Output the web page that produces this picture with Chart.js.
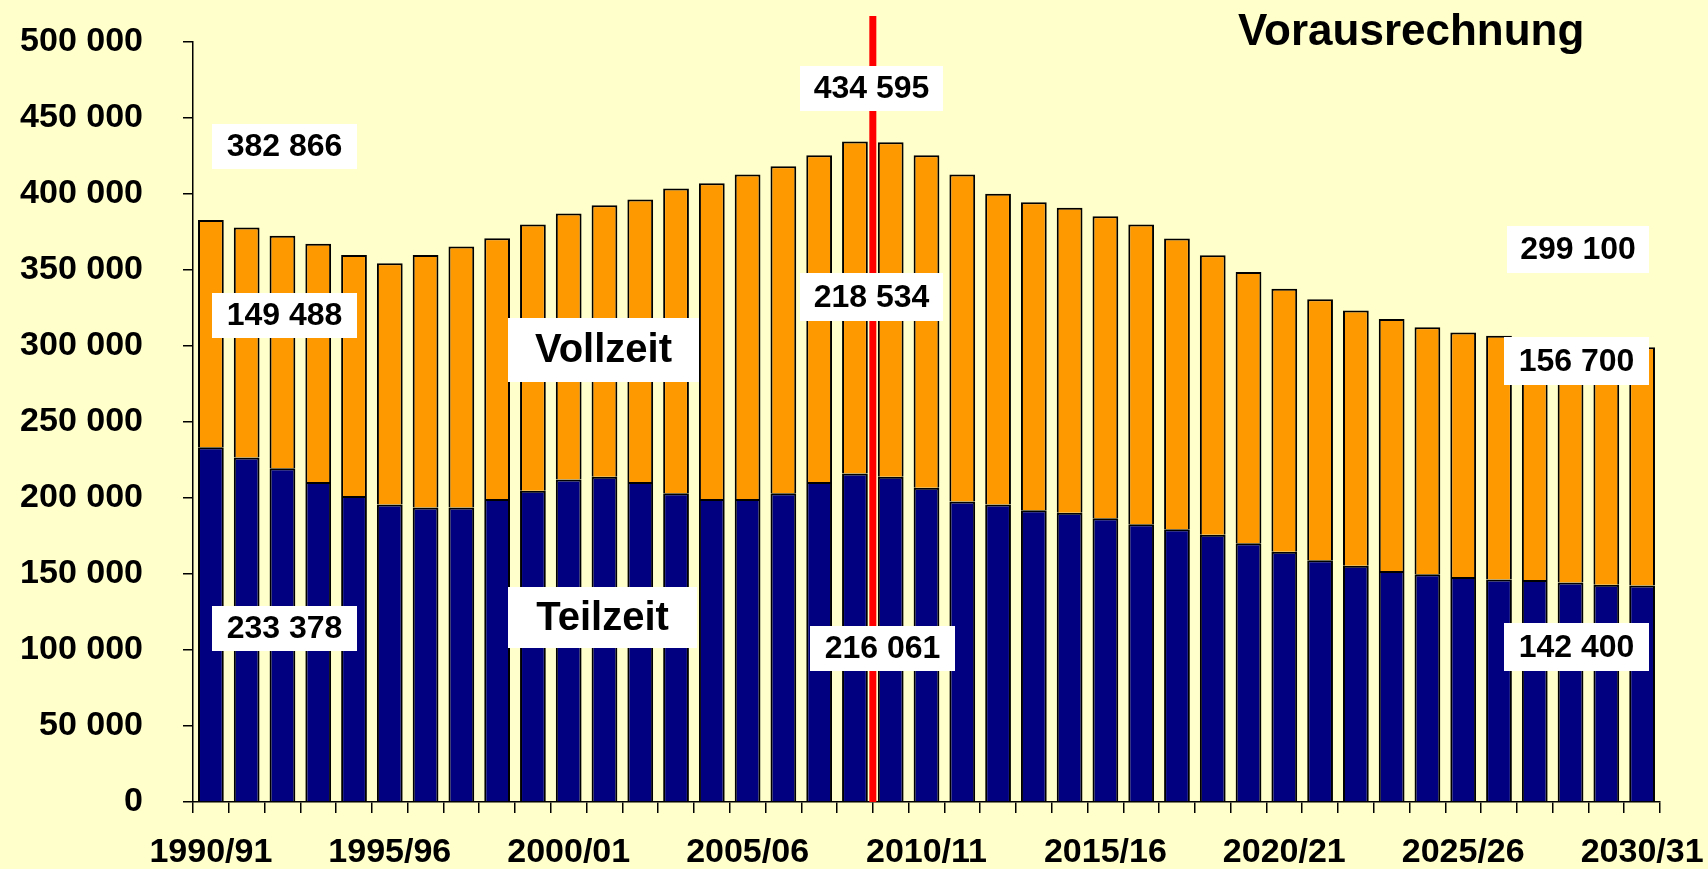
<!DOCTYPE html>
<html lang="de">
<head>
<meta charset="utf-8">
<title>Studierende Vollzeit / Teilzeit</title>
<script src="https://cdn.jsdelivr.net/npm/chart.js@4.4.1/dist/chart.umd.min.js"></script>
<style>
  html, body { margin: 0; padding: 0; background: #ffffcc; }
  #wrap { width: 1708px; height: 869px; }
</style>
</head>
<body>
<div id="wrap"><canvas id="studChart"></canvas></div>
<script>
const jahre = [
  "1990/91", "1991/92", "1992/93", "1993/94", "1994/95", "1995/96", "1996/97", "1997/98",
  "1998/99", "1999/00", "2000/01", "2001/02", "2002/03", "2003/04", "2004/05", "2005/06",
  "2006/07", "2007/08", "2008/09", "2009/10", "2010/11", "2011/12", "2012/13", "2013/14",
  "2014/15", "2015/16", "2016/17", "2017/18", "2018/19", "2019/20", "2020/21", "2021/22",
  "2022/23", "2023/24", "2024/25", "2025/26", "2026/27", "2027/28", "2028/29", "2029/30",
  "2030/31"
];

// unten (dunkelblau)
const teilzeit = [
  233378, 226700, 219500, 210500, 201300, 195800, 193800, 193800, 199300, 204800,
  212200, 214000, 210500, 203200, 199300, 199300, 203200, 210500, 216061, 214000,
  206700, 197700, 195800, 192000, 190300, 186600, 182800, 179500, 175800, 170300,
  164600, 159100, 155400, 151900, 149900, 148100, 146400, 146000, 144400, 142900,
  142400
];

// oben (orange)
const vollzeit = [
  149488, 151200, 153100, 156700, 158600, 158600, 166100, 171600, 171600, 175100,
  174900, 178600, 185800, 200400, 207800, 213500, 215100, 215000, 218534, 220000,
  218800, 215100, 204300, 202600, 200600, 198800, 197100, 191200, 183900, 178400,
  173100, 171600, 167900, 165900, 162400, 160700, 160400, 159500, 159100, 158600,
  156700
];

const achseMax = 500000;
const achseSchritt = 50000;
const trennIndex = 19; // rote Linie vor 2009/10

const hinweise = [
  { text: "382 866", x1: 212, y1: 124, x2: 357, y2: 169, size: 32 },
  { text: "149 488", x1: 212, y1: 293, x2: 357, y2: 338, size: 32 },
  { text: "233 378", x1: 212, y1: 606, x2: 357, y2: 651, size: 32 },
  { text: "Vollzeit", x1: 508, y1: 318, x2: 699, y2: 382, size: 40 },
  { text: "Teilzeit", x1: 508, y1: 587, x2: 697, y2: 648, size: 40 },
  { text: "434 595", x1: 800, y1: 66, x2: 943, y2: 111, size: 32 },
  { text: "218 534", x1: 800, y1: 273, x2: 943, y2: 321, size: 32 },
  { text: "216 061", x1: 810, y1: 626, x2: 955, y2: 671, size: 32 },
  { text: "299 100", x1: 1507, y1: 226, x2: 1649, y2: 273, size: 32 },
  { text: "156 700", x1: 1504, y1: 337, x2: 1649, y2: 385, size: 32 },
  { text: "142 400", x1: 1504, y1: 623, x2: 1649, y2: 671, size: 32 }
];

const schrift = "'Liberation Sans', Arial, sans-serif";

function tausender(v) {
  return String(v).replace(/\B(?=(\d{3})+(?!\d))/g, " ");
}

// rote Linie + weisse Kaesten
const extras = {
  id: "extras",
  afterDatasetsDraw(chart) {
    const { ctx, chartArea, scales } = chart;
    const x = (scales.x.getPixelForValue(trennIndex - 1) + scales.x.getPixelForValue(trennIndex)) / 2;
    ctx.save();
    ctx.fillStyle = "#ff0000";
    ctx.fillRect(x - 3.5, 16, 7, chartArea.bottom - 16);
    ctx.restore();
  },
  afterDraw(chart) {
    const ctx = chart.ctx;
    ctx.save();
    hinweise.forEach((h) => {
      ctx.fillStyle = "#ffffff";
      ctx.fillRect(h.x1, h.y1, h.x2 - h.x1, h.y2 - h.y1);
      ctx.fillStyle = "#000000";
      ctx.font = "bold " + h.size + "px " + schrift;
      ctx.textAlign = "center";
      ctx.textBaseline = "middle";
      ctx.fillText(h.text, (h.x1 + h.x2) / 2, (h.y1 + h.y2) / 2 + 1);
    });
    ctx.font = "bold 44px " + schrift;
    ctx.textAlign = "left";
    ctx.textBaseline = "alphabetic";
    ctx.fillText("Vorausrechnung", 1238, 45);
    ctx.restore();
  }
};

document.addEventListener("DOMContentLoaded", () => {
  const ctx = document.getElementById("studChart");

  new Chart(ctx, {
    type: "bar",
    data: {
      labels: jahre,
      datasets: [
        {
          label: "Teilzeit",
          data: teilzeit,
          backgroundColor: "#000080",
          borderColor: "#000000",
          borderWidth: 2,
          barPercentage: 0.72,
          categoryPercentage: 1
        },
        {
          label: "Vollzeit",
          data: vollzeit,
          backgroundColor: "#ff9900",
          borderColor: "#000000",
          borderWidth: 2,
          barPercentage: 0.72,
          categoryPercentage: 1
        }
      ]
    },
    options: {
      responsive: true,
      maintainAspectRatio: false,
      animation: false,
      layout: { padding: { top: 42, right: 48, left: 0, bottom: 0 } },
      plugins: {
        legend: { display: false },
        tooltip: { enabled: false }
      },
      scales: {
        x: {
          stacked: true,
          afterFit: (s) => {
            s.height = 67;
            s.paddingLeft = 0;
            s.paddingRight = 0;
          },
          grid: { drawOnChartArea: false, drawTicks: true, tickLength: 11, color: "#000", lineWidth: 1.5 },
          border: { color: "#000", width: 1.5 },
          ticks: {
            autoSkip: false,
            maxRotation: 0,
            padding: 19,
            color: "#000",
            font: { family: schrift, size: 34, weight: "bold" },
            callback: (v, i) => (i % 5 === 0 ? jahre[i] : "")
          }
        },
        y: {
          stacked: true,
          min: 0,
          max: achseMax,
          afterFit: (s) => {
            s.width = 193;
            s.paddingTop = 0;
            s.paddingBottom = 0;
          },
          grid: { drawOnChartArea: false, drawTicks: true, tickLength: 10, color: "#000", lineWidth: 1.5 },
          border: { color: "#000", width: 1.5 },
          ticks: {
            stepSize: achseSchritt,
            padding: 40,
            color: "#000",
            font: { family: schrift, size: 34, weight: "bold" },
            callback: (v) => tausender(v)
          }
        }
      }
    },
    plugins: [extras]
  });
});
</script>
</body>
</html>
